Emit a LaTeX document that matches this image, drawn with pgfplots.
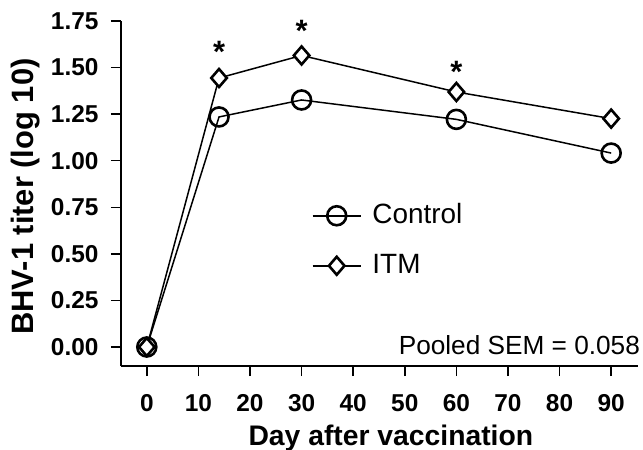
\documentclass[border=0pt]{standalone}
\usepackage{fontspec}
\setmainfont{Liberation Sans}
\usepackage{pgfplots}
\pgfplotsset{compat=1.18}

% day, titer (log 10)
\pgfplotstableread{
day titer
0   0.00
14  1.235
30  1.326
60  1.222
90  1.041
}\control
\pgfplotstableread{
day titer
0   0.00
14  1.444
30  1.565
60  1.369
90  1.226
}\itm

\begin{document}
\begin{tikzpicture}
\begin{axis}[
  name=ax,
  scale only axis, width=517bp, height=345bp,
  xmin=-5, xmax=95.2, ymin=-0.102, ymax=1.75,
  axis lines*=left,
  axis line style={line width=1.5bp},
  xtick={0,10,20,30,40,50,60,70,80,90},
  ytick={0,0.25,0.5,0.75,1,1.25,1.5,1.75},
  tick align=outside, major tick length=10bp,
  tick style={line width=1.5bp, black},
  ticklabel style={font=\bfseries\fontsize{24.5}{24.5}\selectfont},
  /pgf/number format/assume math mode=true,
  xticklabel style={yshift=-15bp},
  yticklabel style={xshift=-9bp, /pgf/number format/.cd, fixed, fixed zerofill, precision=2},
  xlabel={Day after vaccination},
  xlabel style={font=\bfseries\fontsize{28.4}{28.4}\selectfont,
    at={(axis description cs:0.522,-0.229)}, anchor=base},
  ylabel={BHV-1 titer (log 10)},
  ylabel style={font=\bfseries\fontsize{31}{31}\selectfont,
    at={(axis description cs:-0.170,0.491)}, anchor=base},
  clip=false,
  legend style={draw=none, fill=none, inner sep=0pt,
    at={(axis description cs:0.369,0.363)}, anchor=west,
    font=\fontsize{28}{28}\selectfont, row sep=25bp,
    nodes={inner sep=0pt, text height=20bp, text depth=5bp},
    /tikz/every odd column/.append style={column sep=11bp}},
  legend cell align=left,
  legend image code/.code={
    \draw[#1, mark repeat=2, mark phase=2]
      plot coordinates {(0bp,0bp) (24bp,0bp) (48bp,0bp)};},
]
\addplot[black, line width=1.5bp, mark=o,
  mark options={line width=2.6bp, fill=white, mark size=9.5bp}]
  table[x=day, y=titer] {\control};
\addlegendentry{Control}
\addplot[black, line width=1.5bp, mark=diamond*,
  mark options={line width=2.6bp, fill=white, mark size=9bp, xscale=1.15}]
  table[x=day, y=titer] {\itm};
\addlegendentry{ITM}

\node[anchor=base, inner sep=0pt, font=\bfseries\fontsize{31}{31}\selectfont]
  at (axis cs:14,1.527) {*};
\node[anchor=base, inner sep=0pt, font=\bfseries\fontsize{31}{31}\selectfont]
  at (axis cs:30,1.640) {*};
\node[anchor=base, inner sep=0pt, font=\bfseries\fontsize{31}{31}\selectfont]
  at (axis cs:60,1.420) {*};
\node[anchor=base east, inner sep=0pt, font=\fontsize{26.3}{26.3}\selectfont]
  at (rel axis cs:1.004,0.032) {Pooled SEM = 0.058};
\end{axis}
\pgfresetboundingbox
\path ([shift={(-121bp,-84bp)}]ax.south west) rectangle ++(643bp,450bp);
\end{tikzpicture}
\end{document}
